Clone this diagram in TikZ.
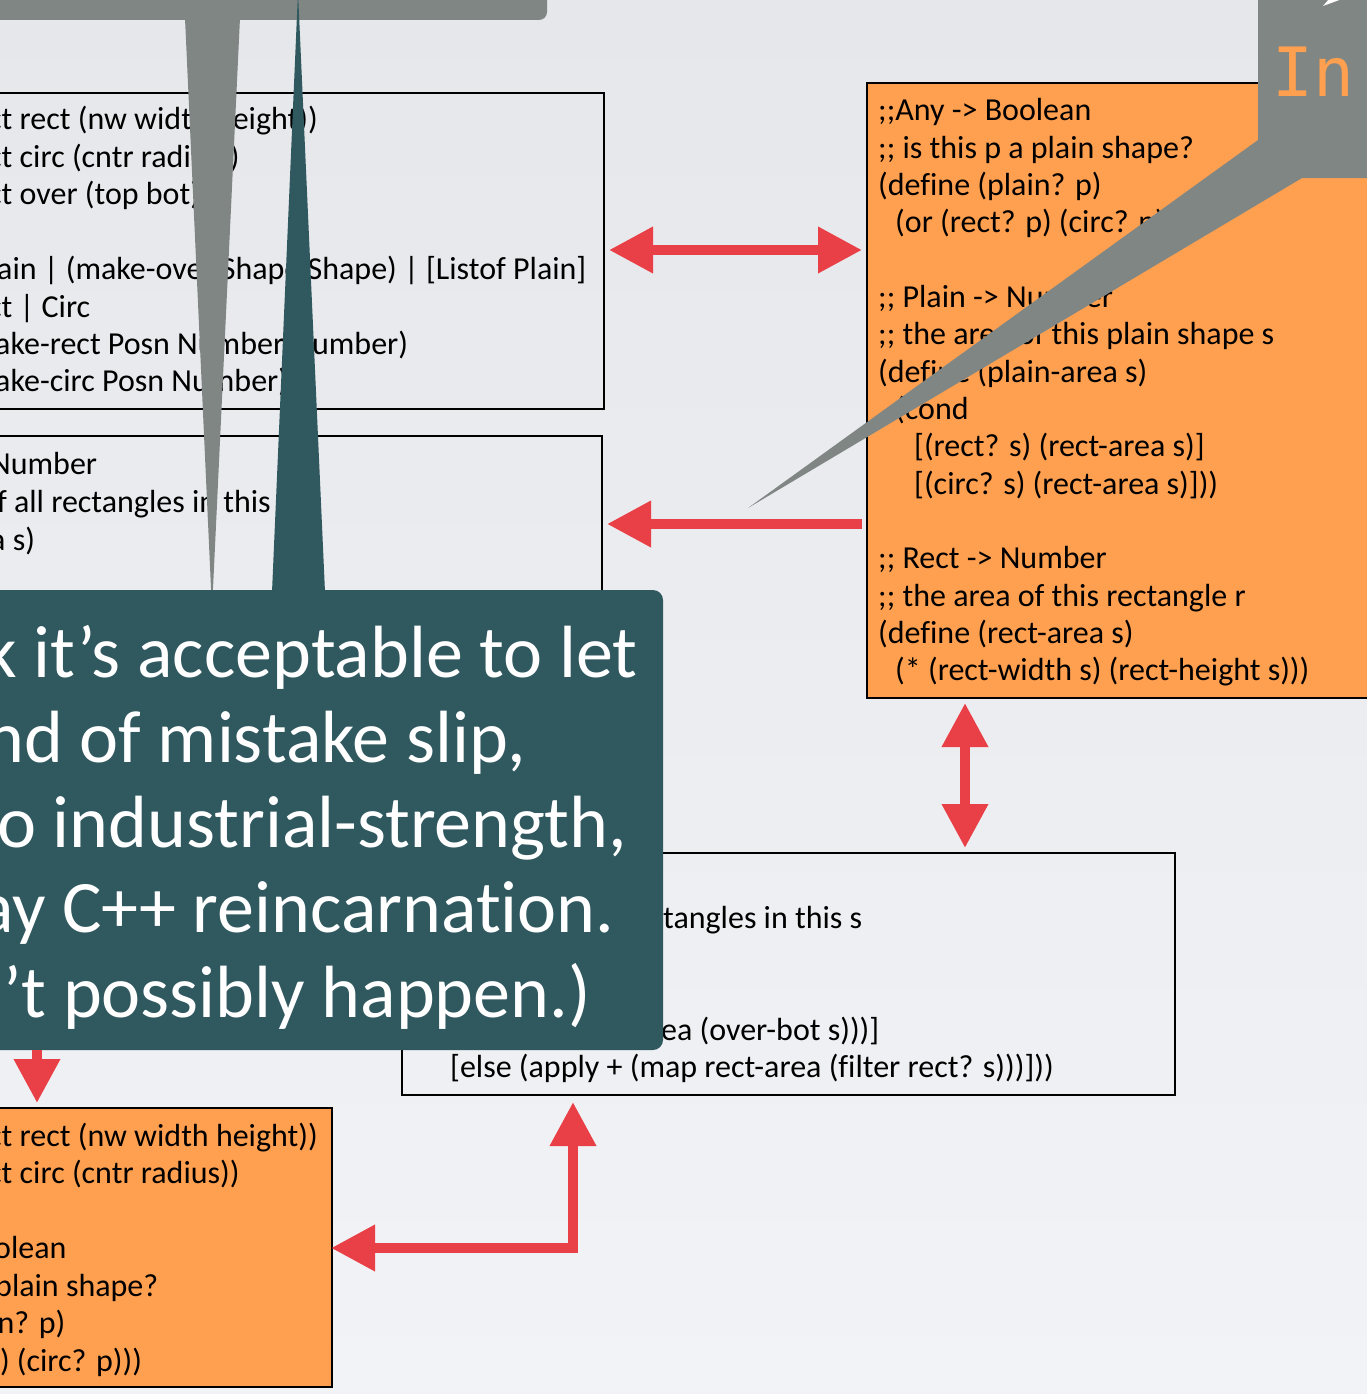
\documentclass[tikz,border=0pt]{standalone}
\usepackage{fontspec}
\usepackage{tikz}
\usetikzlibrary{arrows.meta}
\newfontfamily\codefam[Ligatures={NoCommon}]{Carlito}
\newfontfamily\monofam{DejaVu Sans Mono}

\definecolor{slidebg}{RGB}{230,231,235}
\definecolor{slidebgLow}{RGB}{242,243,246}
\definecolor{boxorange}{RGB}{255,160,80}
\definecolor{linkred}{RGB}{233,64,71}
\definecolor{noteteal}{RGB}{47,88,95}
\definecolor{notegray}{RGB}{128,134,131}

\newcommand*{\xMin}{0}
\newcommand*{\xMax}{1367}
\newcommand*{\yMin}{0}
\newcommand*{\yMax}{1394}
\newcommand*{\codeSize}{\codefam\fontsize{32}{37}\selectfont}
\newcommand*{\noteSize}{\codefam\fontsize{74}{85}\selectfont}

\begin{document}
\begin{tikzpicture}[x=1pt, y=-1pt,
		>={Triangle[length=44pt, width=44pt]},
		box/.style={draw=black, line width=2pt, rectangle, inner sep=0pt, outer sep=5pt},
		code/.style={anchor=base west, inner sep=0pt, font=\codeSize, text=black},
		note/.style={anchor=base west, inner sep=0pt, font=\noteSize, text=white},
		link/.style={draw=linkred, line width=10pt, ->},
		bilink/.style={link, <->}]

	\useasboundingbox (\xMin,\yMin) rectangle (\xMax,\yMax);
	\clip (\xMin,\yMin) rectangle (\xMax,\yMax);
	\shade [top color=slidebg, bottom color=slidebgLow] (\xMin,\yMin) rectangle (\xMax,\yMax);

	% code boxes
	\node [box, minimum width=624pt, minimum height=316pt] (defs) at (292,251) {};
	\node [box, minimum width=622pt, minimum height=244pt] (shapearea) at (291,558) {};
	\node [box, fill=boxorange, minimum width=533pt, minimum height=615pt] (plainarea) at (1133.5,390.5) {};
	\node [box, minimum width=773pt, minimum height=242pt] (overarea) at (788.5,974) {};
	\node [box, fill=boxorange, minimum width=352pt, minimum height=279pt] (plainp) at (156,1247.5) {};

	\foreach \dx/\src [count=\i from 0] in {
		-12/{ct rect (nw width height))},
		-12/{ct circ (cntr radius))},
		-12/{ct over (top bot))},
		0/{},
		-3/{ain | (make-over Shape Shape) | [Listof Plain]},
		-12/{ct | Circ},
		-5/{ake-rect Posn Number Number)},
		-5/{ake-circ Posn Number)}
	} {
		\node [code] (a\i) at (\dx, 130+37.4*\i) {\src};
	}

	\foreach \dx/\src [count=\i from 0] in {
		-10/{Number},
		-20/{of all rectangles in this s},
		-10/{a s)}
	} {
		\node [code] (b\i) at (\dx, 474+38*\i) {\src};
	}

	\foreach \src [count=\i from 0] in {
		{;;Any -> Boolean},
		{;; is this p a plain shape?},
		{(define (plain? p)},
		{\hspace*{17pt}(or (rect? p) (circ? p)))},
		{},
		{;; Plain -> Number},
		{;; the area of this plain shape s},
		{(define (plain-area s)},
		{\hspace*{17pt}(cond},
		{\hspace*{36pt}[(rect? s) (rect-area s)]},
		{\hspace*{36pt}[(circ? s) (rect-area s)]))},
		{},
		{;; Rect -> Number},
		{;; the area of this rectangle r},
		{(define (rect-area s)},
		{\hspace*{17pt}(* (rect-width s) (rect-height s)))}
	} {
		\node [code] (c\i) at (878, 121+37.33*\i) {\src};
	}

	\node [code] (d0) at (663,928) {tangles in this s};
	\node [code] (d1) at (661,1040) {ea (over-bot s)))]};
	\node [code] (d2) at (450,1077) {[else (apply + (map rect-area (filter rect? s)))]))};

	\foreach \dx/\src [count=\i from 0] in {
		-12/{ct rect (nw width height))},
		-12/{ct circ (cntr radius))},
		0/{},
		-6/{olean},
		-5/{plain shape?},
		-10/{in? p)},
		-17/{p) (circ? p)))}
	} {
		\node [code] (e\i) at (\dx, 1146+37.5*\i) {\src};
	}

	% arrows between the boxes
	\coordinate (rowTop) at (0,250);
	\coordinate (rowMid) at (0,524);
	\coordinate (rowLow) at (0,1248);
	\coordinate (colLeft) at (37,0);
	\coordinate (colMid) at (573,0);
	\coordinate (colRight) at (965,0);

	\draw [bilink] (defs.east |- rowTop) -- (plainarea.west |- rowTop);
	\draw [link] (plainarea.west |- rowMid) -- (shapearea.east |- rowMid);
	\draw [bilink] (colRight |- plainarea.south) -- (colRight |- overarea.north);
	\draw [bilink, shorten <=2pt, shorten >=-6pt] (colMid |- overarea.south) |- (plainp.east |- rowLow);

	% grey note on top
	\node [fill=notegray, rounded corners=8pt, inner sep=0pt, minimum width=600pt, minimum height=60pt] (hint) at (247,-10) {};
	\fill [notegray] (185,18) -- (212,610) -- (240,18) -- cycle;

	% teal note
	\node [fill=noteteal, rounded corners=10pt, inner sep=0pt, minimum width=700pt, minimum height=460pt] (slip) at (313,820) {};
	\fill [noteteal] (272,592) -- (298,-8) -- (325,592) -- cycle;

	\foreach \dx/\src [count=\i from 0] in {
		-17/{k it’s acceptable to let},
		-15/{nd of mistake slip,},
		-27/{to industrial-strength,},
		-22/{ay C++ reincarnation.},
		-36/{n’t possibly happen.)}
	} {
		\node [note] (n\i) at (\dx, 677+85*\i) {\src};
	}

	\draw [link] (colLeft |- slip.south) -- (colLeft |- plainp.north);

	% grey note on the right
	\fill [notegray] (1258,-10) -- (1258,140) -- (748,508) -- (1302,178) -- (1380,178) -- (1380,-10) -- cycle;
	\fill [white] (1323,6) -- (1329,-1) -- (1342,-1) -- cycle;
	\node [anchor=base west, inner sep=0pt, font=\monofam\fontsize{68}{68}\selectfont, text=boxorange] (inword) at (1272,97) {In};

\end{tikzpicture}
\end{document}
